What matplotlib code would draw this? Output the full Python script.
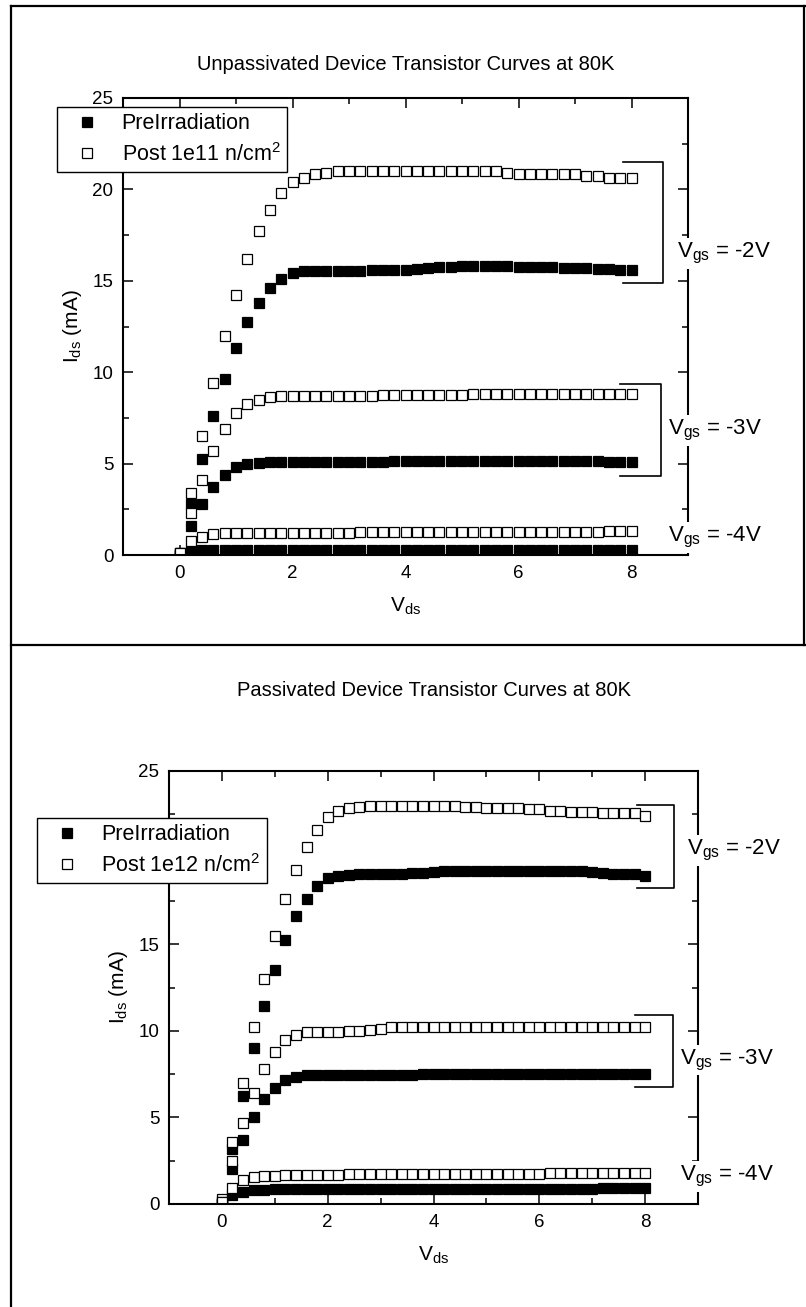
import matplotlib
matplotlib.use('Agg')
from matplotlib import pyplot as plt
from matplotlib.lines import Line2D
from matplotlib.ticker import MultipleLocator

plt.rcParams['font.family'] = 'Liberation Sans'
plt.rcParams['mathtext.fontset'] = 'custom'
plt.rcParams['mathtext.rm'] = 'Liberation Sans'
plt.rcParams['mathtext.default'] = 'regular'

vds = [0.0, 0.2, 0.4, 0.6, 0.8, 1.0, 1.2, 1.4, 1.6, 1.8, 2.0, 2.2, 2.4, 2.6, 2.8, 3.0,
       3.2, 3.4, 3.6, 3.8, 4.0, 4.2, 4.4, 4.6, 4.8, 5.0, 5.2, 5.4, 5.6, 5.8, 6.0, 6.2,
       6.4, 6.6, 6.8, 7.0, 7.2, 7.4, 7.6, 7.8, 8.0]

# unpassivated device (top)
up_pre_2 = [0.0, 2.8, 5.25, 7.6, 9.65, 11.35, 12.75, 13.8, 14.6, 15.1, 15.4, 15.55, 15.55,
            15.55, 15.55, 15.55, 15.55, 15.58, 15.58, 15.6, 15.6, 15.65, 15.68, 15.75, 15.78,
            15.8, 15.8, 15.82, 15.82, 15.8, 15.78, 15.78, 15.75, 15.75, 15.72, 15.7, 15.68,
            15.65, 15.62, 15.6, 15.58]
up_post_2 = [0.1, 3.4, 6.5, 9.4, 12.0, 14.2, 16.2, 17.7, 18.9, 19.8, 20.4, 20.65, 20.85,
             20.9, 21.0, 21.0, 21.0, 21.0, 21.0, 21.0, 21.0, 21.0, 21.0, 21.0, 21.0, 21.0,
             21.0, 21.0, 21.0, 20.88, 20.85, 20.85, 20.85, 20.85, 20.85, 20.85, 20.75, 20.75,
             20.62, 20.62, 20.62]
up_pre_3 = [0.0, 1.6, 2.8, 3.7, 4.4, 4.8, 5.0, 5.05, 5.1, 5.1, 5.1, 5.1, 5.1, 5.1, 5.1,
            5.1, 5.1, 5.1, 5.1, 5.12, 5.12, 5.12, 5.12, 5.12, 5.15, 5.15, 5.15, 5.15, 5.15,
            5.15, 5.15, 5.15, 5.15, 5.15, 5.12, 5.12, 5.12, 5.12, 5.1, 5.1, 5.1]
up_post_3 = [0.1, 2.3, 4.1, 5.7, 6.9, 7.75, 8.25, 8.5, 8.62, 8.68, 8.7, 8.7, 8.7, 8.72,
             8.72, 8.72, 8.72, 8.72, 8.75, 8.75, 8.75, 8.75, 8.78, 8.78, 8.78, 8.78, 8.8,
             8.8, 8.8, 8.8, 8.8, 8.8, 8.8, 8.8, 8.8, 8.8, 8.8, 8.8, 8.8, 8.8, 8.8]
up_pre_4 = [0.0, 0.22, 0.25, 0.25, 0.25, 0.25, 0.25, 0.25, 0.25, 0.25, 0.25, 0.25, 0.25,
            0.25, 0.25, 0.25, 0.25, 0.25, 0.25, 0.25, 0.26, 0.26, 0.26, 0.26, 0.26, 0.26,
            0.26, 0.26, 0.26, 0.26, 0.27, 0.27, 0.27, 0.27, 0.27, 0.27, 0.27, 0.27, 0.27,
            0.27, 0.27]
up_post_4 = [0.1, 0.75, 1.0, 1.15, 1.2, 1.2, 1.2, 1.2, 1.2, 1.22, 1.22, 1.22, 1.22, 1.22,
             1.22, 1.22, 1.25, 1.25, 1.25, 1.25, 1.25, 1.25, 1.25, 1.25, 1.25, 1.25, 1.25,
             1.25, 1.25, 1.28, 1.28, 1.28, 1.28, 1.28, 1.28, 1.28, 1.28, 1.28, 1.3, 1.3, 1.3]

# passivated device (bottom)
p_pre_2 = [0.0, 3.2, 6.25, 9.0, 11.45, 13.5, 15.27, 16.65, 17.6, 18.35, 18.8, 18.95, 19.02,
           19.05, 19.05, 19.05, 19.05, 19.08, 19.1, 19.12, 19.15, 19.2, 19.22, 19.25, 19.25,
           19.25, 19.25, 19.25, 19.25, 19.25, 19.22, 19.2, 19.2, 19.2, 19.2, 19.18, 19.1,
           19.08, 19.08, 19.05, 18.95]
p_post_2 = [0.3, 3.6, 7.0, 10.2, 13.0, 15.5, 17.6, 19.3, 20.6, 21.6, 22.33, 22.7, 22.87,
            22.95, 23.0, 23.0, 23.0, 23.0, 23.0, 23.0, 23.0, 23.0, 23.0, 22.95, 22.9, 22.88,
            22.85, 22.85, 22.85, 22.82, 22.8, 22.7, 22.68, 22.65, 22.65, 22.62, 22.55, 22.55,
            22.55, 22.55, 22.43]
p_pre_3 = [0.0, 2.0, 3.7, 5.05, 6.07, 6.72, 7.17, 7.34, 7.44, 7.45, 7.45, 7.45, 7.45, 7.45,
           7.47, 7.47, 7.47, 7.47, 7.47, 7.48, 7.48, 7.48, 7.48, 7.48, 7.48, 7.48, 7.48,
           7.48, 7.48, 7.48, 7.48, 7.48, 7.48, 7.48, 7.48, 7.48, 7.48, 7.48, 7.48, 7.48, 7.48]
p_post_3 = [0.1, 2.5, 4.7, 6.43, 7.8, 8.8, 9.44, 9.77, 9.92, 9.95, 9.95, 9.95, 9.98, 9.98,
            10.05, 10.08, 10.2, 10.2, 10.2, 10.2, 10.2, 10.2, 10.2, 10.2, 10.2, 10.2, 10.2,
            10.2, 10.2, 10.2, 10.2, 10.2, 10.2, 10.2, 10.2, 10.2, 10.2, 10.2, 10.2, 10.2, 10.2]
p_pre_4 = [0.0, 0.5, 0.7, 0.8, 0.82, 0.85, 0.85, 0.85, 0.85, 0.85, 0.85, 0.85, 0.85, 0.85,
           0.87, 0.87, 0.87, 0.87, 0.87, 0.87, 0.87, 0.87, 0.88, 0.88, 0.88, 0.88, 0.88,
           0.88, 0.88, 0.88, 0.88, 0.88, 0.88, 0.88, 0.88, 0.88, 0.9, 0.9, 0.9, 0.9, 0.9]
p_post_4 = [0.1, 0.9, 1.4, 1.55, 1.6, 1.62, 1.65, 1.65, 1.68, 1.7, 1.7, 1.7, 1.72, 1.72,
            1.72, 1.72, 1.75, 1.75, 1.75, 1.75, 1.75, 1.75, 1.75, 1.75, 1.75, 1.75, 1.75,
            1.75, 1.75, 1.75, 1.75, 1.78, 1.78, 1.78, 1.78, 1.78, 1.78, 1.78, 1.78, 1.78, 1.78]

W, H = 806, 1307
fig = plt.figure(figsize=(W / 100, H / 100), dpi=100)


def fx(px):
    return px / W


def fy(py):
    return 1 - py / H


def panel(box, title, title_y, pre, post, post_label, brackets, vgs_text, leg_anchor, leg_loc):
    left, top, right, bottom = box
    ax = fig.add_axes([fx(left), fy(bottom), fx(right - left), fy(top) - fy(bottom)])
    kw = dict(ls='none', marker='s', ms=7.4, mec='black', mew=0.9)
    hpre = hpost = None
    for ypre, ypost in zip(pre, post):
        hpre, = ax.plot(vds, ypre, mfc='black', **kw)
        hpost, = ax.plot(vds, ypost, mfc='white', **kw)
    ax.set_xlim(-1, 9)
    ax.set_ylim(0, 25)
    ax.xaxis.set_major_locator(MultipleLocator(2))
    ax.xaxis.set_minor_locator(MultipleLocator(1))
    ax.yaxis.set_major_locator(MultipleLocator(5))
    ax.yaxis.set_minor_locator(MultipleLocator(2.5))
    ax.tick_params(which='both', direction='in', top=True, right=True, width=1.1,
                   labelsize=13.5, pad=7)
    ax.tick_params(which='major', length=7)
    ax.tick_params(which='minor', length=4)
    for s in ax.spines.values():
        s.set_linewidth(1.5)
    ax.set_xlabel(r'V$_{ds}$', fontsize=15, labelpad=10)
    ax.set_ylabel(r'I$_{ds}$ (mA)', fontsize=15, labelpad=6)
    fig.text(fx((left + right) / 2), fy(title_y), title, ha='center', va='center', fontsize=14.5)

    for x0, x1, y0, y1 in brackets:
        ax.plot([x0, x1, x1, x0], [y0, y0, y1, y1], color='black', lw=1.2, clip_on=False)
    for x, y, s in vgs_text:
        ax.text(x, y, s, fontsize=16, ha='left', va='center', zorder=6, clip_on=False,
                bbox=dict(facecolor='white', edgecolor='none', pad=2))

    # figure-level legend so that it hides the tick label beneath it
    leg = fig.legend([hpre, hpost], ['PreIrradiation', post_label], loc=leg_loc,
                     bbox_to_anchor=leg_anchor, fontsize=15.5, frameon=True, fancybox=False,
                     framealpha=1, handlelength=2.2, handletextpad=0.5, borderpad=0.3,
                     labelspacing=0.4, borderaxespad=0)
    leg.get_frame().set_edgecolor('black')
    leg.get_frame().set_linewidth(1.0)
    return ax


panel((123, 98, 688, 555), 'Unpassivated Device Transistor Curves at 80K', 64,
      [up_pre_2, up_pre_3, up_pre_4], [up_post_2, up_post_3, up_post_4],
      r'Post 1e11 n/cm$^2$',
      [(7.85, 8.55, 21.5, 14.9), (7.8, 8.53, 9.35, 4.32)],
      [(8.8, 16.5, r'V$_{gs}$ = -2V'), (8.65, 6.8, r'V$_{gs}$ = -3V'),
       (8.65, 0.95, r'V$_{gs}$ = -4V')],
      (fx(57), fy(107)), 'upper left')

panel((169, 771, 698, 1204), 'Passivated Device Transistor Curves at 80K', 690,
      [p_pre_2, p_pre_3, p_pre_4], [p_post_2, p_post_3, p_post_4],
      r'Post 1e12 n/cm$^2$',
      [(7.85, 8.54, 23.06, 18.27), (7.8, 8.52, 10.9, 6.76)],
      [(8.79, 20.4, r'V$_{gs}$ = -2V'), (8.66, 8.3, r'V$_{gs}$ = -3V'),
       (8.66, 1.6, r'V$_{gs}$ = -4V')],
      (fx(267), fy(818)), 'upper right')

# outer frame of the two panels
div_y = 645
frame = [((11, 11), (6, H)), ((11, W), (6, 6)), ((11, W), (div_y, div_y)),
         ((W - 2, W - 2), (6, div_y))]
for xs, ys in frame:
    fig.add_artist(Line2D([fx(v) for v in xs], [fy(v) for v in ys], color='black', lw=1.6))

plt.savefig('out.png', dpi=100)
